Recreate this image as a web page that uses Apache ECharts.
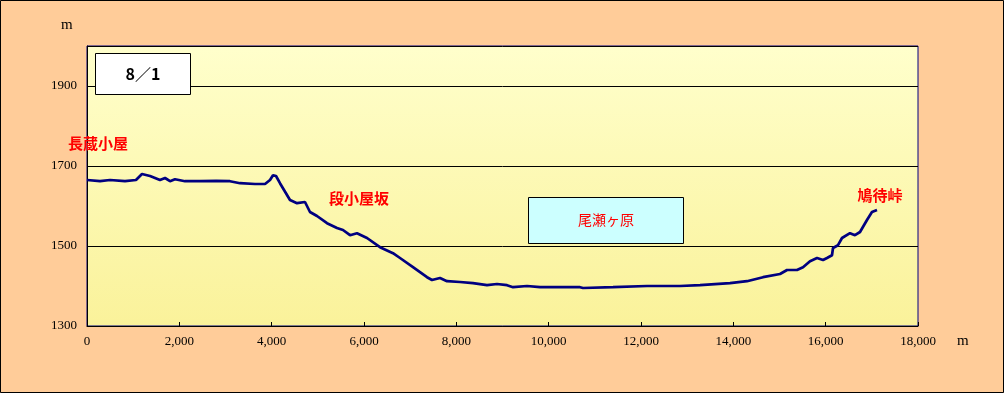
<!DOCTYPE html>
<html><head><meta charset="utf-8">
<script src="https://cdn.jsdelivr.net/npm/echarts@6/dist/echarts.min.js"></script>
<style>html,body{margin:0;padding:0;background:#FFCC99}#c{width:1004px;height:393px}</style>
</head><body><div id="c"></div>
<script>
// distance along the route (m)
const distances = [0,282,498,823,1061,1191,1365,1581,1690,1798,1906,2123,2448,2800,3097,3314,3639,3856,3964,4029,4094,4180,4397,4549,4722,4830,4982,5199,5415,5545,5697,5848,6065,6346,6628,6780,7061,7365,7473,7646,7798,8080,8361,8664,8881,9098,9228,9531,9813,10679,10744,11394,12130,12845,13278,13928,14296,14643,15011,15163,15379,15509,15661,15813,15943,16029,16137,16159,16267,16354,16527,16635,16744,16895,17003,17112];
// elevation (m)
const elevations = [1665,1662,1665,1662,1665,1680,1675,1665,1670,1662,1667,1662,1662,1663,1662,1657,1655,1655,1665,1677,1675,1657,1615,1607,1610,1585,1575,1557,1545,1540,1527,1532,1520,1497,1482,1470,1447,1422,1415,1420,1412,1410,1407,1402,1405,1402,1397,1400,1397,1397,1395,1397,1400,1400,1402,1407,1412,1422,1430,1440,1440,1447,1462,1470,1465,1470,1477,1495,1502,1520,1532,1527,1535,1565,1585,1590];
const yTicks = [1300, 1500, 1700, 1900];
const dateLabel = '8／1';
const places = ['長蔵小屋', '段小屋坂', '尾瀬ヶ原', '鳩待峠'];

const chart = echarts.init(document.getElementById('c'));
const numFont = '"Liberation Serif","DejaVu Serif",serif';
const jpFont = '"Noto Sans CJK JP",sans-serif';
chart.setOption({
  animation: false,
  backgroundColor: '#FFCC99',
  grid: {left: 87, right: 86, top: 46, bottom: 67, show: true, borderColor: '#000080', borderWidth: 1,
    backgroundColor: new echarts.graphic.LinearGradient(0,0,0,1,[{offset:0,color:'#FFFFCC'},{offset:1,color:'#FAF29A'}])},
  xAxis: {type: 'value', min: 0, max: 18000, interval: 2000,
    axisLine: {show: true, lineStyle: {color: '#000', width: 1}},
    axisTick: {show: true, inside: true, length: 4, lineStyle: {color: '#000'}},
    splitLine: {show: false},
    axisLabel: {color: '#000', fontFamily: numFont, fontSize: 13, margin: 9,
      formatter: v => v.toLocaleString('en-US')}},
  yAxis: {type: 'value', min: yTicks[0], max: 2000, interval: yTicks[1]-yTicks[0],
    axisLine: {show: true, lineStyle: {color: '#000', width: 1}},
    axisTick: {show: false},
    splitLine: {show: true, lineStyle: {color: '#000', width: 1}},
    axisLabel: {color: '#000', fontFamily: numFont, fontSize: 13, margin: 10, showMaxLabel: false,
      formatter: v => yTicks.includes(v) ? String(v) : ''}},
  series: [{type: 'line', data: distances.map((d,i)=>[d, elevations[i]]), showSymbol: false,
    lineStyle: {color: '#000080', width: 2.7}, z: 5}],
  graphic: [
    {type:'rect', shape:{x:0.5,y:0.5,width:1003,height:392}, style:{fill:'none', stroke:'#000', lineWidth:1}, z:100},
    {type:'text', left:61, top:18, style:{text:'m', font:'15px '+numFont, fill:'#000'}},
    {type:'text', left:957, top:334, style:{text:'m', font:'15px '+numFont, fill:'#000'}},
    {type:'rect', shape:{x:95.5,y:53.5,width:95,height:41}, style:{fill:'#FFFFFF', stroke:'#000', lineWidth:1}, z:50},
    {type:'text', x:143, y:74, style:{text:dateLabel, font:'bold 16px '+jpFont, fill:'#000', align:'center', verticalAlign:'middle'}, z:51},
    {type:'text', x:98, y:143, style:{text:places[0], font:'bold 15px '+jpFont, fill:'#FF0000', align:'center', verticalAlign:'middle'}, z:51},
    {type:'text', x:359, y:198, style:{text:places[1], font:'bold 15px '+jpFont, fill:'#FF0000', align:'center', verticalAlign:'middle'}, z:51},
    {type:'rect', shape:{x:528.5,y:197.5,width:155,height:46}, style:{fill:'#CCFFFF', stroke:'#000', lineWidth:1}, z:50},
    {type:'text', x:606, y:220, style:{text:places[2], font:'14px '+jpFont, fill:'#FF0000', align:'center', verticalAlign:'middle'}, z:51},
    {type:'text', x:880, y:195, style:{text:places[3], font:'bold 15px '+jpFont, fill:'#FF0000', align:'center', verticalAlign:'middle'}, z:51}
  ]
});
</script></body></html>
